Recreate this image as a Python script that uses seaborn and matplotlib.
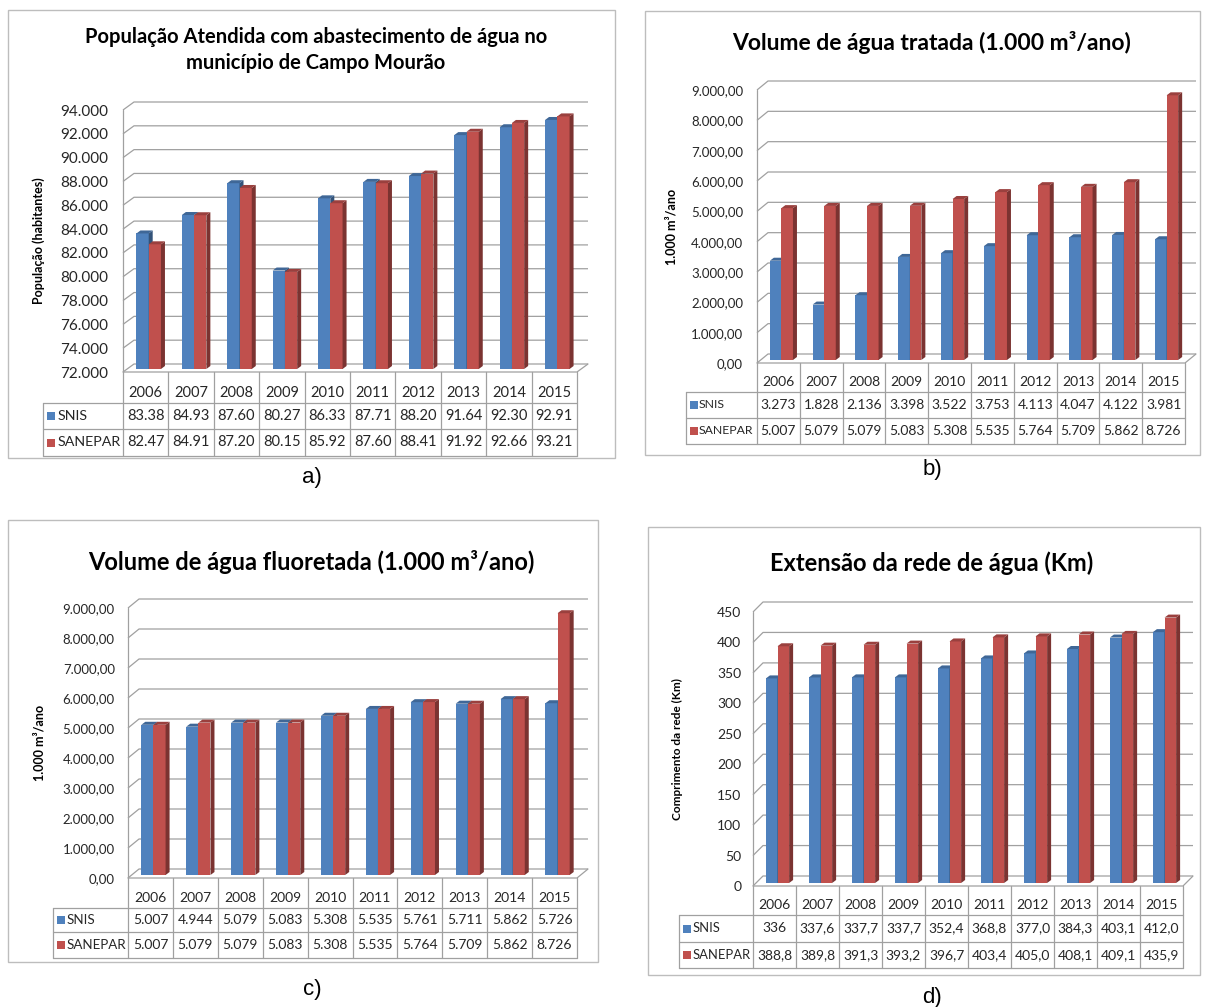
import matplotlib
matplotlib.use("Agg")
import matplotlib.pyplot as plt
import matplotlib.colors as mcolors
import pandas as pd
import seaborn as sns
from matplotlib.patches import Rectangle, Polygon
from matplotlib.transforms import ScaledTranslation, Bbox, TransformedBbox

# ---------------------------------------------------------------- data
years = [2006, 2007, 2008, 2009, 2010, 2011, 2012, 2013, 2014, 2015]
series_names = ["SNIS", "SANEPAR"]

# População atendida (milhares de habitantes)
pop_snis = [83.38, 84.93, 87.60, 80.27, 86.33, 87.71, 88.20, 91.64, 92.30, 92.91]
pop_sanepar = [82.47, 84.91, 87.20, 80.15, 85.92, 87.60, 88.41, 91.92, 92.66, 93.21]

# Volume de água tratada (1.000 m³/ano)
trat_snis = [3273, 1828, 2136, 3398, 3522, 3753, 4113, 4047, 4122, 3981]
trat_sanepar = [5007, 5079, 5079, 5083, 5308, 5535, 5764, 5709, 5862, 8726]

# Volume de água fluoretada (1.000 m³/ano)
fluor_snis = [5007, 4944, 5079, 5083, 5308, 5535, 5761, 5711, 5862, 5726]
fluor_sanepar = [5007, 5079, 5079, 5083, 5308, 5535, 5764, 5709, 5862, 8726]

# Extensão da rede de água (km)
rede_snis = [336, 337.6, 337.7, 337.7, 352.4, 368.8, 377.0, 384.3, 403.1, 412.0]
rede_sanepar = [388.8, 389.8, 391.3, 393.2, 396.7, 403.4, 405.0, 408.1, 409.1, 435.9]

titles = [
    "População Atendida com abastecimento de água no\nmunicípio de Campo Mourão",
    "Volume de água tratada (1.000 m³/ano)",
    "Volume de água fluoretada (1.000 m³/ano)",
    "Extensão da rede de água (Km)",
]
ylabels = ["População (habitantes)", "1.000 m³/ano", "1.000 m³/ano",
           "Comprimento da rede (Km)"]
captions = ["a)", "b)", "c)", "d)"]


# ---------------------------------------------------------------- formats
def br_number(v, dec=0):
    s = f"{v:,.{dec}f}"
    return s.replace(",", "_").replace(".", ",").replace("_", ".")


def fmt_pop(v):
    return f"{v:.2f}"


def fmt_vol(v):
    return br_number(v, 0)


def fmt_rede(v):
    return str(v) if isinstance(v, int) else f"{v:.1f}".replace(".", ",")


def tick_pop(t):
    return f"{t:.3f}"


def tick_vol(t):
    return br_number(t, 2)


def tick_rede(t):
    return str(t)


# ---------------------------------------------------------------- style
sns.set_theme(style="white")
plt.rcParams["font.family"] = ["Lato", "DejaVu Sans"]

W, H, DPI = 1205, 1007, 100
BLUE, RED = "#4F81BD", "#C0504D"
GRID = "#A0A0A0"
FRAME = "#BDBDBD"
TXT = "#262626"

fig = plt.figure(figsize=(W / DPI, H / DPI), dpi=DPI)
fig.patch.set_facecolor("white")

# full-figure pixel canvas (origin at the top-left corner)
canvas = fig.add_axes([0, 0, 1, 1], zorder=0)
canvas.set_xlim(0, W)
canvas.set_ylim(H, 0)
canvas.axis("off")


def shade(color, f):
    r, g, b = mcolors.to_rgb(color)
    return (r * f, g * f, b * f)


panels = [
    dict(snis=pop_snis, sanepar=pop_sanepar, fmt=fmt_pop, tick=tick_pop,
         ylim=(72, 94), ticks=list(range(72, 95, 2)),
         box=(8, 10, 615, 458), plot=(123, 577, 372, 110), depth=(11, 8),
         table_left=43, rows=(403, 429, 456), head_size=10.3, head_gap=15,
         title_xy=(316, 50), title_size=14.5, ylabel_x=45, ylabel_size=9,
         tick_pad=10.5, tick_size=11, table_size=10.5, caption_xy=(312, 477)),
    dict(snis=trat_snis, sanepar=trat_sanepar, fmt=fmt_vol, tick=tick_vol,
         ylim=(0, 9000), ticks=list(range(0, 9001, 1000)),
         box=(645, 11, 1200, 455), plot=(757, 1185, 363, 90), depth=(11, 9),
         table_left=686, rows=(392, 418, 444), head_size=8.8, head_gap=13,
         title_xy=(932, 43), title_size=16.5, ylabel_x=678, ylabel_size=9,
         tick_pad=10, tick_size=9.5, table_size=10, caption_xy=(932, 470)),
    dict(snis=fluor_snis, sanepar=fluor_sanepar, fmt=fmt_vol, tick=tick_vol,
         ylim=(0, 9000), ticks=list(range(0, 9001, 1000)),
         box=(8, 520, 598, 962), plot=(128, 577, 878, 608), depth=(11, 9),
         table_left=53, rows=(908, 932, 958), head_size=9.6, head_gap=14,
         title_xy=(311, 562), title_size=17, ylabel_x=45, ylabel_size=9,
         tick_pad=9.5, tick_size=9.5, table_size=10, caption_xy=(312, 990)),
    dict(snis=rede_snis, sanepar=rede_sanepar, fmt=fmt_rede, tick=tick_rede,
         ylim=(0, 450), ticks=list(range(0, 451, 50)),
         box=(648, 527, 1200, 975), plot=(753, 1183, 886, 612), depth=(10, 10),
         table_left=679, rows=(915, 942, 968), head_size=9.4, head_gap=14,
         title_xy=(932, 563), title_size=17, ylabel_x=683, ylabel_size=8.5,
         tick_pad=8.5, tick_size=10, table_size=10, caption_xy=(932, 997)),
]

BAR_SHIFT = (3, 3)     # bars sit slightly behind the front plane
BAR_DEPTH = (4, 3)     # visible side / top thickness of each bar
LW = 0.9


def to_px(display_pts):
    return canvas.transData.inverted().transform(display_pts)


def draw_panel(i, spec):
    x0, x1, yb, yt = spec["plot"]
    lo, hi = spec["ylim"]
    dx, dy = spec["depth"]

    # frame around the chart
    bx0, by0, bx1, by1 = spec["box"]
    canvas.add_patch(Rectangle((bx0, by0), bx1 - bx0, by1 - by0, fill=False,
                               edgecolor=FRAME, lw=1.0))

    ax = fig.add_axes([x0 / W, 1 - yb / H, (x1 - x0) / W, (yb - yt) / H],
                      zorder=1)
    ax.patch.set_alpha(0)

    df = pd.DataFrame({
        "ano": [str(y) for y in years] * 2,
        "valor": list(spec["snis"]) + list(spec["sanepar"]),
        "fonte": [series_names[0]] * len(years) + [series_names[1]] * len(years),
    })
    sns.barplot(data=df, x="ano", y="valor", hue="fonte",
                palette=[BLUE, RED], width=0.54, saturation=1,
                errorbar=None, legend=False, linewidth=0, ax=ax)

    ax.set_xlim(-0.5, 9.5)
    ax.set_ylim(lo, hi)
    for s in ax.spines.values():
        s.set_visible(False)
    ax.set_xticks([])
    ax.set_xlabel("")
    ax.set_yticks(spec["ticks"])
    ax.set_yticklabels([spec["tick"](t) for t in spec["ticks"]])
    ax.tick_params(axis="y", length=0, pad=spec["tick_pad"],
                   labelsize=spec["tick_size"], labelcolor=TXT)
    ax.set_ylabel(ylabels[i], fontsize=spec["ylabel_size"], fontweight="bold",
                  color="black")
    ax.yaxis.set_label_coords((spec["ylabel_x"] - x0) / (x1 - x0), 0.5)

    def dpx(x, y):
        return to_px(ax.transData.transform((x, y)))

    # back wall gridlines with the left-wall diagonal
    for t in spec["ticks"]:
        fx, fy = dpx(-0.5, t)
        ex, ey = dpx(9.5, t)
        canvas.plot([fx, fx + dx, ex + dx], [fy, fy - dy, ey - dy],
                    color=GRID, lw=LW, solid_capstyle="butt")
    # floor outline and front-left edge
    fx, fy = dpx(-0.5, lo)
    ex, ey = dpx(9.5, lo)
    canvas.plot([fx, ex, ex + dx], [fy, ey, ey - dy], color=GRID, lw=LW)
    tx, ty = dpx(-0.5, hi)
    canvas.plot([fx, tx], [fy, ty], color=GRID, lw=LW)

    # 3-D look for the bars: shift fronts back, add side and top faces
    shift = ScaledTranslation(BAR_SHIFT[0] / DPI, BAR_SHIFT[1] / DPI,
                              fig.dpi_scale_trans)
    btrans = ax.transData + shift
    clip = TransformedBbox(Bbox.from_extents(-0.5, lo, 9.5, hi * 2), btrans)
    sdx, sdy = BAR_DEPTH
    for p in list(ax.patches):
        face = p.get_facecolor()
        is_blue = mcolors.same_color(face[:3], mcolors.to_rgb(BLUE))
        z = 2 if is_blue else 3
        base = BLUE if is_blue else RED
        p.set_transform(btrans)
        p.set_clip_path(None)
        p.set_clip_box(clip)
        p.set_zorder(z)
        x, w = p.get_x(), p.get_width()
        y_lo = max(p.get_y(), lo)
        y_hi = p.get_y() + p.get_height()
        (xl, ybt), (xr, ytp) = to_px(btrans.transform([(x, y_lo), (x + w, y_hi)]))
        side = Polygon([(xr, ybt), (xr, ytp), (xr + sdx, ytp - sdy),
                        (xr + sdx, ybt - sdy)], closed=True,
                       facecolor=shade(base, 0.64), edgecolor="none",
                       transform=canvas.transData, zorder=z + 0.1)
        top = Polygon([(xl, ytp), (xr, ytp), (xr + sdx, ytp - sdy),
                       (xl + sdx, ytp - sdy)], closed=True,
                      facecolor=shade(base, 0.8), edgecolor="none",
                      transform=canvas.transData, zorder=z + 0.1)
        for poly in (side, top):
            ax.add_artist(poly)
            poly.set_clip_on(False)

    # data table under the plot
    fs = spec["table_size"]
    cols = [dpx(-0.5 + k, lo)[0] for k in range(len(years) + 1)]
    r0 = dpx(-0.5, lo)[1]
    r1, r2, r3 = spec["rows"]
    tl = spec["table_left"]
    for cx in cols:
        canvas.plot([cx, cx], [r0, r3], color=GRID, lw=LW)
    canvas.plot([tl, tl], [r1, r3], color=GRID, lw=LW)
    for r in (r1, r2, r3):
        canvas.plot([tl, cols[-1]], [r, r], color=GRID, lw=LW)
    for k, yr in enumerate(years):
        cx = (cols[k] + cols[k + 1]) / 2
        canvas.text(cx, r1 - 10, str(yr), ha="center", va="center",
                    fontsize=fs, color=TXT)
        canvas.text(cx, (r1 + r2) / 2, spec["fmt"](spec["snis"][k]),
                    ha="center", va="center", fontsize=fs, color=TXT)
        canvas.text(cx, (r2 + r3) / 2, spec["fmt"](spec["sanepar"][k]),
                    ha="center", va="center", fontsize=fs, color=TXT)
    for name, color, (ra, rb) in zip(series_names, (BLUE, RED),
                                     ((r1, r2), (r2, r3))):
        mid = (ra + rb) / 2
        canvas.add_patch(Rectangle((tl + 4, mid - 4), 8, 8, facecolor=color,
                                   edgecolor="none"))
        canvas.text(tl + spec["head_gap"], mid, name, ha="left", va="center",
                    fontsize=spec["head_size"], color=TXT)

    # title and caption
    tx_, ty_ = spec["title_xy"]
    canvas.text(tx_, ty_, titles[i], ha="center", va="center",
                fontsize=spec["title_size"], fontweight="bold", color="black",
                linespacing=1.35)
    cx_, cy_ = spec["caption_xy"]
    canvas.text(cx_, cy_, captions[i], ha="center", va="center",
                fontsize=16, family=["Liberation Sans", "DejaVu Sans"],
                color="black")


for i, spec in enumerate(panels):
    draw_panel(i, spec)

fig.savefig("out.png", dpi=DPI)
